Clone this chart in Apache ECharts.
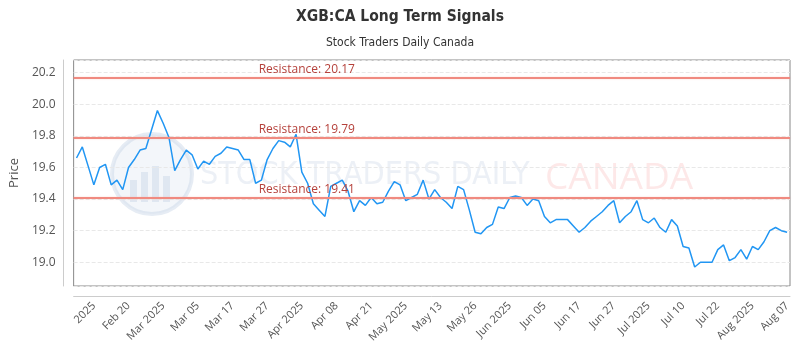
<!DOCTYPE html>
<html>
<head>
<meta charset="utf-8">
<script src="https://cdn.jsdelivr.net/npm/echarts@6/dist/echarts.min.js"></script>
<style>
html, body { margin: 0; padding: 0; background: #fff; }
#main { width: 800px; height: 350px; }
</style>
</head>
<body>
<div id="main"></div>
<script>
var prices = [
    19.66, 19.73, 19.61, 19.49, 19.60, 19.62, 19.49, 19.52, 19.46, 19.60,
    19.65, 19.71, 19.72, 19.84, 19.96, 19.88, 19.79, 19.58, 19.65, 19.71,
    19.68, 19.59, 19.64, 19.62, 19.67, 19.69, 19.73, 19.72, 19.71, 19.65,
    19.65, 19.50, 19.52, 19.65, 19.72, 19.77, 19.76, 19.73, 19.81, 19.57,
    19.50, 19.37, 19.33, 19.29, 19.48, 19.50, 19.52, 19.45, 19.32, 19.39,
    19.36, 19.41, 19.37, 19.38, 19.45, 19.51, 19.49, 19.39, 19.41, 19.43,
    19.52, 19.40, 19.46, 19.41, 19.38, 19.34, 19.48, 19.46, 19.33, 19.19,
    19.18, 19.22, 19.24, 19.35, 19.34, 19.41, 19.42, 19.41, 19.36, 19.40,
    19.39, 19.29, 19.25, 19.27, 19.27, 19.27, 19.23, 19.19, 19.22, 19.26,
    19.29, 19.32, 19.36, 19.39, 19.25, 19.29, 19.32, 19.39, 19.27, 19.25,
    19.28, 19.22, 19.19, 19.27, 19.23, 19.10, 19.09, 18.97, 19.00, 19.00,
    19.00, 19.08, 19.11, 19.01, 19.03, 19.08, 19.02, 19.10, 19.08, 19.13,
    19.20, 19.22, 19.20, 19.19
];
var tickIdx = [3, 9, 15, 21, 27, 33, 39, 45, 51, 57, 63, 69, 75, 81, 87, 93, 99, 105, 111, 117, 123];
var tickLabels = ['2025', 'Feb 20', 'Mar 2025', 'Mar 05', 'Mar 17', 'Mar 27', 'Apr 2025', 'Apr 08',
    'Apr 21', 'May 2025', 'May 13', 'May 26', 'Jun 2025', 'Jun 05', 'Jun 17', 'Jun 27',
    'Jul 2025', 'Jul 10', 'Jul 22', 'Aug 2025', 'Aug 07'];
var resistance = [20.17, 19.79, 19.41];

var categories = prices.map(function (p, i) {
    var k = tickIdx.indexOf(i);
    return k >= 0 ? tickLabels[k] : '';
});

var dom = document.getElementById('main');
var chart = echarts.init(dom);

chart.setOption({
    animation: false,
    title: {
        text: 'XGB:CA Long Term Signals',
        subtext: 'Stock Traders Daily Canada',
        left: 'center',
        top: 4,
        itemGap: 12,
        textStyle: {
            fontFamily: "'DejaVu Sans Condensed', 'Liberation Sans Narrow', sans-serif",
            fontSize: 15.5,
            fontWeight: 'bold',
            color: '#333'
        },
        subtextStyle: {
            fontFamily: "'DejaVu Sans Condensed', 'Liberation Sans Narrow', sans-serif",
            fontSize: 12,
            color: '#333'
        }
    },
    graphic: [
        {
            type: 'group',
            silent: true,
            z: 0,
            children: [
                {
                    type: 'circle',
                    shape: { cx: 152, cy: 174, r: 40 },
                    style: { fill: 'rgba(215,225,240,0.3)', stroke: 'rgba(200,212,230,0.45)', lineWidth: 4 }
                },
                { type: 'rect', shape: { x: 130, y: 180, width: 7, height: 22 }, style: { fill: 'rgba(200,212,230,0.45)' } },
                { type: 'rect', shape: { x: 141, y: 172, width: 7, height: 30 }, style: { fill: 'rgba(200,212,230,0.45)' } },
                { type: 'rect', shape: { x: 152, y: 166, width: 7, height: 36 }, style: { fill: 'rgba(200,212,230,0.45)' } },
                { type: 'rect', shape: { x: 163, y: 176, width: 7, height: 26 }, style: { fill: 'rgba(200,212,230,0.45)' } },
                {
                    type: 'text',
                    style: {
                        x: 200, y: 176, text: 'STOCK TRADERS DAILY',
                        verticalAlign: 'middle',
                        font: "32px 'DejaVu Sans Condensed', 'Liberation Sans Narrow', sans-serif",
                        fill: 'rgba(200,212,230,0.35)'
                    }
                },
                {
                    type: 'text',
                    style: {
                        x: 545, y: 178, text: 'CANADA',
                        verticalAlign: 'middle',
                        font: "500 37px 'Open Sans', sans-serif",
                        fill: 'rgba(250,190,190,0.35)'
                    }
                }
            ]
        }
    ],
    grid: {
        left: 70,
        right: 10,
        top: 60,
        bottom: 64,
        show: true,
        borderColor: '#888',
        borderWidth: 1
    },
    xAxis: {
        type: 'category',
        data: categories,
        boundaryGap: true,
        offset: 10,
        axisLine: { lineStyle: { color: '#ccc' } },
        axisTick: { show: false },
        axisLabel: {
            rotate: 45,
            margin: 8,
            interval: function (index) { return tickIdx.indexOf(index) >= 0; },
            color: '#555',
            fontFamily: "'Open Sans', sans-serif",
            fontSize: 11
        },
        splitLine: { show: false }
    },
    yAxis: {
        type: 'value',
        min: 18.85,
        max: 20.28,
        splitNumber: 7,
        offset: 10,
        name: 'Price',
        nameLocation: 'middle',
        nameGap: 33,
        nameTextStyle: { color: '#555', fontSize: 13, fontFamily: "'Open Sans', sans-serif" },
        axisLine: { show: true, lineStyle: { color: '#ccc' } },
        axisTick: { show: false },
        axisLabel: {
            showMinLabel: false,
            showMaxLabel: false,
            color: '#555',
            fontFamily: "'Open Sans', sans-serif",
            fontSize: 12,
            formatter: function (v) { return v.toFixed(1); }
        },
        splitLine: { lineStyle: { color: '#e8e8e8', type: 'dashed' } }
    },
    series: [{
        type: 'line',
        data: prices,
        showSymbol: false,
        symbol: 'none',
        lineStyle: { color: '#2196f3', width: 1.5 },
        z: 3,
        markLine: {
            silent: true,
            symbol: 'none',
            lineStyle: {
                color: '#f08a80',
                width: 2,
                type: 'solid',
                shadowColor: 'rgba(240,140,130,0.35)',
                shadowBlur: 2
            },
            label: {
                position: 'insideStartTop',
                distance: [185, 2],
                color: '#b5413b',
                fontFamily: "'Open Sans', sans-serif",
                fontSize: 12,
                formatter: function (p) { return 'Resistance: ' + p.value.toFixed(2); }
            },
            data: resistance.map(function (v) { return { yAxis: v }; })
        }
    }]
});
</script>
</body>
</html>
